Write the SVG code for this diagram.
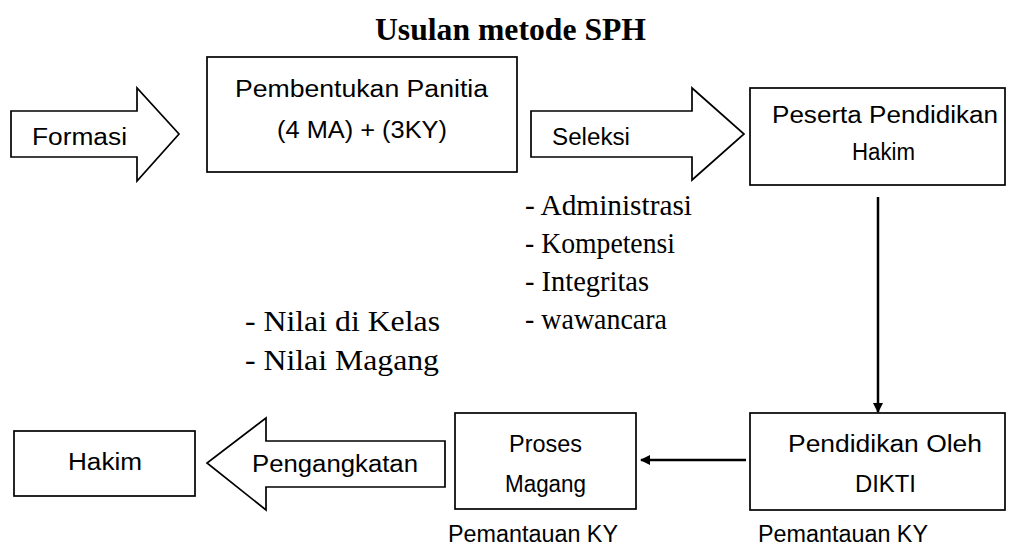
<svg xmlns="http://www.w3.org/2000/svg" width="1011" height="545" viewBox="0 0 1011 545">
<style>
.shape{fill:#fff;stroke:#000;stroke-width:1.7}
.sans{font-family:"Liberation Sans",Arial,sans-serif;font-size:23px;fill:#000}
.serif{font-family:"Liberation Serif","Times New Roman",serif;font-size:29px;fill:#000}
.title{font-family:"Liberation Serif","Times New Roman",serif;font-size:31px;font-weight:bold;fill:#000}
.conn{stroke:#000;stroke-width:2.5;fill:none}
</style>
<defs>
<marker id="ah" markerWidth="10" markerHeight="10" refX="9" refY="5" orient="auto" markerUnits="userSpaceOnUse" viewBox="0 0 10 10">
<path d="M0,0 L10,5 L0,10 Z" fill="#000"/>
</marker>
</defs>
<rect width="1011" height="545" fill="#fff"/>
<text class="title" x="375" y="40" textLength="271" lengthAdjust="spacingAndGlyphs">Usulan metode SPH</text>

<g id="formasi">
<path class="shape" d="M11,111 H137 V88 L179,134 L137,181 V157 H11 Z"/>
<text class="sans" x="32" y="145" textLength="95" lengthAdjust="spacingAndGlyphs">Formasi</text>
</g>

<g id="panitia">
<rect class="shape" x="207" y="57" width="310" height="115"/>
<text class="sans" x="235" y="97" textLength="253" lengthAdjust="spacingAndGlyphs">Pembentukan Panitia</text>
<text class="sans" x="277" y="138" textLength="170" lengthAdjust="spacingAndGlyphs">(4 MA) + (3KY)</text>
</g>

<g id="seleksi">
<path class="shape" d="M531,111 H692 V88 L744,134 L692,180 V157 H531 Z"/>
<text class="sans" x="552" y="145" textLength="78" lengthAdjust="spacingAndGlyphs">Seleksi</text>
</g>

<g id="peserta">
<rect class="shape" x="750" y="88" width="255" height="97"/>
<text class="sans" x="772" y="123" textLength="226" lengthAdjust="spacingAndGlyphs">Peserta Pendidikan</text>
<text class="sans" x="852" y="160" textLength="63" lengthAdjust="spacingAndGlyphs">Hakim</text>
</g>

<g id="kriteria-seleksi">
<text class="serif" x="525" y="215" textLength="167" lengthAdjust="spacingAndGlyphs">- Administrasi</text>
<text class="serif" x="525" y="253" textLength="150" lengthAdjust="spacingAndGlyphs">- Kompetensi</text>
<text class="serif" x="525" y="291" textLength="124" lengthAdjust="spacingAndGlyphs">- Integritas</text>
<text class="serif" x="525" y="329" textLength="142" lengthAdjust="spacingAndGlyphs">- wawancara</text>
</g>

<g id="nilai">
<text class="serif" x="245" y="331" textLength="195" lengthAdjust="spacingAndGlyphs">- Nilai di Kelas</text>
<text class="serif" x="245" y="370" textLength="194" lengthAdjust="spacingAndGlyphs">- Nilai Magang</text>
</g>

<g id="dikti">
<rect class="shape" x="750" y="413" width="255" height="97"/>
<text class="sans" x="788" y="452" textLength="194" lengthAdjust="spacingAndGlyphs">Pendidikan Oleh</text>
<text class="sans" x="855" y="492" textLength="61" lengthAdjust="spacingAndGlyphs">DIKTI</text>
<text class="sans" x="758" y="542" textLength="170" lengthAdjust="spacingAndGlyphs">Pemantauan KY</text>
</g>

<g id="magang">
<rect class="shape" x="455" y="413" width="181" height="96"/>
<text class="sans" x="509" y="452" textLength="73" lengthAdjust="spacingAndGlyphs">Proses</text>
<text class="sans" x="505" y="492" textLength="81" lengthAdjust="spacingAndGlyphs">Magang</text>
<text class="sans" x="448" y="542" textLength="170" lengthAdjust="spacingAndGlyphs">Pemantauan KY</text>
</g>

<g id="pengangkatan">
<path class="shape" d="M445,441 H266 V418 L207,463 L266,510 V487 H445 Z"/>
<text class="sans" x="252" y="472" textLength="166" lengthAdjust="spacingAndGlyphs">Pengangkatan</text>
</g>

<g id="hakim">
<rect class="shape" x="14" y="431" width="181" height="65"/>
<text class="sans" x="68" y="470" textLength="74" lengthAdjust="spacingAndGlyphs">Hakim</text>
</g>

<g id="connectors">
<line class="conn" x1="878" y1="197" x2="878" y2="412" marker-end="url(#ah)"/>
<line class="conn" x1="746" y1="460" x2="641" y2="460" marker-end="url(#ah)"/>
</g>
</svg>
